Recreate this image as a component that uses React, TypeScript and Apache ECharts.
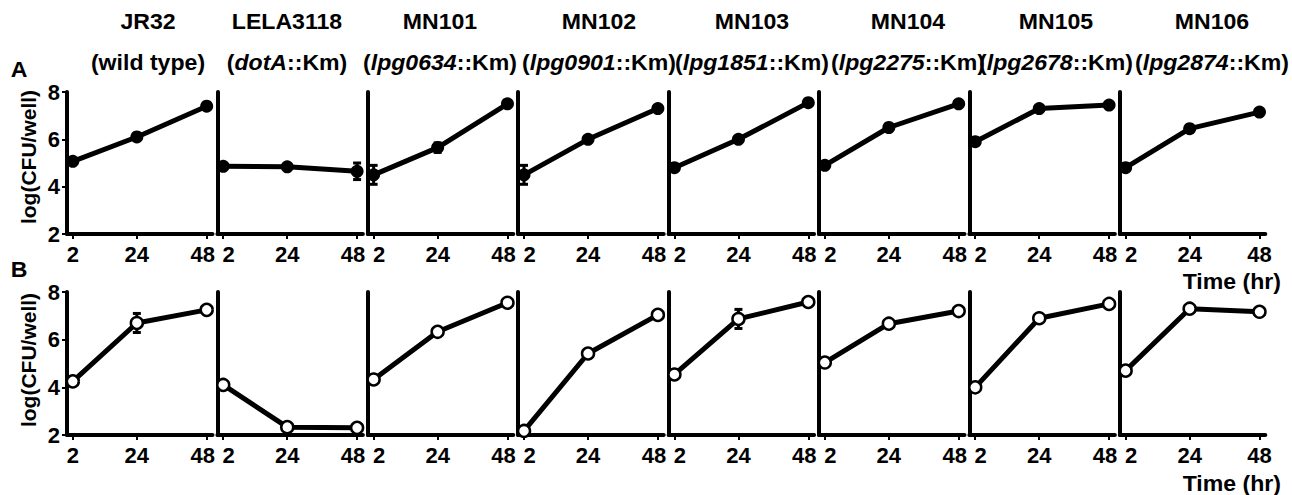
import React, { useEffect, useRef } from "react";
import * as echarts from "echarts";

const strains = ["JR32", "LELA3118", "MN101", "MN102", "MN103", "MN104", "MN105", "MN106"];
const genotypes = ["wild type", "dotA", "lpg0634", "lpg0901", "lpg1851", "lpg2275", "lpg2678", "lpg2874"];
const genotypeItalic = [false, true, true, true, true, true, true, true];
const timePoints = [2, 24, 48];
const yTicks = [2, 4, 6, 8];

const valuesA = [
  [5.07, 6.1, 7.4],
  [4.86, 4.84, 4.65],
  [4.5, 5.65, 7.5],
  [4.5, 6.0, 7.3],
  [4.8, 6.0, 7.55],
  [4.9, 6.5, 7.5],
  [5.9, 7.3, 7.45],
  [4.8, 6.45, 7.15],
];
const errorsA = [
  [0.1, 0.1, 0.05],
  [0.1, 0.1, 0.35],
  [0.4, 0.2, 0.05],
  [0.4, 0.1, 0.05],
  [0.1, 0.1, 0.05],
  [0.1, 0.1, 0.05],
  [0.1, 0.05, 0.05],
  [0.1, 0.1, 0.05],
];
const valuesB = [
  [4.25, 6.7, 7.25],
  [4.1, 2.33, 2.3],
  [4.33, 6.33, 7.55],
  [2.17, 5.42, 7.04],
  [4.54, 6.87, 7.58],
  [5.04, 6.67, 7.2],
  [4.0, 6.9, 7.5],
  [4.7, 7.3, 7.17],
];
const errorsB = [
  [0.1, 0.4, 0.05],
  [0.05, 0.05, 0.1],
  [0.1, 0.1, 0.05],
  [0.05, 0.1, 0.1],
  [0.1, 0.4, 0.05],
  [0.05, 0.1, 0.05],
  [0.05, 0.1, 0.05],
  [0.1, 0.05, 0.05],
];

const FONT = '"Liberation Sans", Arial, Helvetica, sans-serif';
const FS = 22;
const SX = 1.05;

export default function App() {
  const ref = useRef<HTMLDivElement>(null);
  useEffect(() => {
    if (!ref.current) return;
    const chart = echarts.init(ref.current, null, { renderer: "svg" });
    const grids: any[] = [];
    const xAxes: any[] = [];
    const yAxes: any[] = [];
    const series: any[] = [];
    const graphic: any[] = [];

    const panelLeft0 = 67;
    const panelStep = 150.4;
    const panelWidth = 145.5;
    const rows = [
      { top: 92, height: 142, values: valuesA, errors: errorsA, filled: true },
      { top: 292, height: 143, values: valuesB, errors: errorsB, filled: false },
    ];

    const errRender = (params: any, api: any) => {
      const x = api.value(0);
      const y = api.value(1);
      const e = api.value(2);
      if (!e) return null;
      const t = api.coord([x, y + e]);
      const b = api.coord([x, y - e]);
      const cap = 4;
      const st = { stroke: "#000", lineWidth: 3 };
      return {
        type: "group",
        children: [
          { type: "line", shape: { x1: t[0], y1: t[1], x2: b[0], y2: b[1] }, style: st },
          { type: "line", shape: { x1: t[0] - cap, y1: t[1], x2: t[0] + cap, y2: t[1] }, style: st },
          { type: "line", shape: { x1: b[0] - cap, y1: b[1], x2: b[0] + cap, y2: b[1] }, style: st },
        ],
      };
    };

    const labelFont = { fontSize: FS, fontWeight: "bold", fontFamily: FONT, color: "#000" };

    rows.forEach((row, r) => {
      strains.forEach((_, i) => {
        const idx = grids.length;
        grids.push({
          left: panelLeft0 + i * panelStep,
          top: row.top,
          width: panelWidth,
          height: row.height,
          containLabel: false,
        });
        xAxes.push({
          type: "value",
          gridIndex: idx,
          min: 0,
          max: 50,
          splitLine: { show: false },
          axisLine: { show: true, onZero: false, lineStyle: { color: "#000", width: 4 } },
          axisTick: { show: true, customValues: timePoints, length: 5, lineStyle: { color: "#000", width: 2 } },
          axisLabel: {
            show: true,
            customValues: timePoints,
            margin: 9,
            ...labelFont,
            formatter: (v: number) => {
              if (v === 48 && i < strains.length - 1) return "{l|48}";
              if (v === 2 && i > 0) return "{r|2}";
              return String(v);
            },
            rich: {
              l: { ...labelFont, padding: [0, 8, 0, 0] },
              r: { ...labelFont, padding: [0, 0, 0, 11] },
            },
          },
        });
        yAxes.push({
          type: "value",
          gridIndex: idx,
          min: 2,
          max: 8,
          interval: 2,
          splitLine: { show: false },
          axisLine: { show: true, onZero: false, lineStyle: { color: "#000", width: 4 } },
          axisTick: { show: i === 0, length: 5, lineStyle: { color: "#000", width: 2 } },
          axisLabel: {
            show: i === 0,
            margin: 7,
            ...labelFont,
          },
        });
        series.push({
          type: "custom",
          xAxisIndex: idx,
          yAxisIndex: idx,
          renderItem: errRender,
          encode: { x: 0, y: 1 },
          z: 1,
          data: timePoints.map((t, k) => [t, row.values[i][k], row.errors[i][k]]),
        });
        series.push({
          type: "line",
          xAxisIndex: idx,
          yAxisIndex: idx,
          z: 3,
          data: timePoints.map((t, k) => [t, row.values[i][k]]),
          lineStyle: { color: "#000", width: 5 },
          symbol: "circle",
          symbolSize: row.filled ? 13 : 12,
          itemStyle: row.filled
            ? { color: "#000", borderColor: "#000", borderWidth: 0 }
            : { color: "#fff", borderColor: "#000", borderWidth: 2.5 },
          showSymbol: true,
        });
      });
    });

    const textStyle = (text: string, align: string) => ({
      text,
      textAlign: align,
      textVerticalAlign: "middle",
      fontSize: FS,
      fontWeight: "bold",
      fontFamily: FONT,
      fill: "#000",
    });

    const headerX = [148, 287, 440, 599, 752, 908, 1056, 1212];
    strains.forEach((s, i) => {
      graphic.push({ type: "text", x: headerX[i], y: 22, scaleX: SX, style: textStyle(s, "center") });
      const g = genotypes[i];
      const txt = genotypeItalic[i] ? `({it|${g}}::Km)` : `(${g})`;
      graphic.push({
        type: "text",
        x: headerX[i],
        y: 63,
        scaleX: SX,
        style: {
          ...textStyle(txt, "center"),
          rich: {
            it: { fontStyle: "italic", fontWeight: "bold", fontSize: FS, fontFamily: FONT, fill: "#000" },
          },
        },
      });
    });

    [
      { t: "A", y: 70 },
      { t: "B", y: 270 },
    ].forEach((p) => {
      graphic.push({ type: "text", x: 19, y: p.y, scaleX: SX, style: textStyle(p.t, "center") });
    });
    [157, 360].forEach((cy) => {
      graphic.push({
        type: "text",
        x: 28,
        y: cy,
        rotation: Math.PI / 2,
        style: { ...textStyle("log(CFU/well)", "center"), fontSize: 21 },
      });
    });
    [282, 484].forEach((cy) => {
      graphic.push({ type: "text", x: 1281, y: cy, scaleX: SX, style: textStyle("Time (hr)", "right") });
    });

    chart.setOption({
      animation: false,
      backgroundColor: "#fff",
      grid: grids,
      xAxis: xAxes,
      yAxis: yAxes,
      series,
      graphic,
    });
    return () => chart.dispose();
  }, []);
  return (
    <div
      ref={ref}
      style={{ position: "fixed", left: 0, top: 0, width: 1292, height: 495, background: "#fff" }}
    />
  );
}
